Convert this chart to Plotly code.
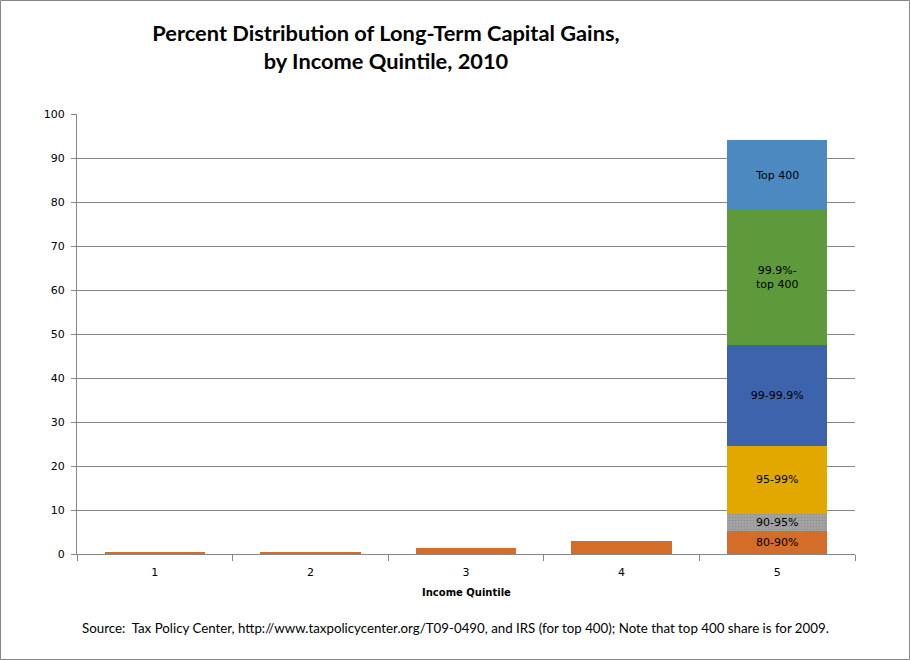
import plotly.graph_objects as go

quintiles = ["1", "2", "3", "4", "5"]
# Share of long-term capital gains by quintile (quintiles 1-4), and the 80-90% part of quintile 5
lower_share = [0.3, 0.5, 1.4, 3.0, 5.2]
# Components of the top quintile (bottom to top)
top_labels = ["90-95%", "95-99%", "99-99.9%", "99.9%-<br>top 400", "Top 400"]
top_values = [3.9, 15.5, 22.9, 30.7, 15.8]
top_colors = ["#A5A5A5", "#E2A800", "#3C63AC", "#5E993B", "#4C89C1"]
orange = "#D46C2A"

W, H = 910, 660
L, R, T, B = 77, 55, 114, 106
PW, PH = W - L - R, H - T - B

def px(x):
    return (x - L) / PW

def py(y):
    return (H - B - y) / PH

fig = go.Figure()
fig.add_trace(go.Bar(
    x=quintiles, y=lower_share,
    marker=dict(color=orange, line=dict(width=0)),
    text=["", "", "", "", "80-90%"],
    textposition="inside", insidetextanchor="middle", textangle=0,
    textfont=dict(family="DejaVu Sans", size=11, color="#000000"),
    hoverinfo="skip", showlegend=False,
))
for lab, val, col in zip(top_labels, top_values, top_colors):
    marker = dict(color=col, line=dict(width=0))
    if lab == "90-95%":
        marker["pattern"] = dict(shape=".", fgcolor="#7F7F7F", bgcolor=col, size=3, solidity=0.4)
    fig.add_trace(go.Bar(
        x=[quintiles[-1]], y=[val],
        marker=marker,
        text=[lab],
        textposition="inside", insidetextanchor="middle", textangle=0,
        textfont=dict(family="DejaVu Sans", size=11, color="#000000"),
        hoverinfo="skip", showlegend=False,
    ))

fig.update_layout(
    width=W, height=H,
    margin=dict(l=L, r=R, t=T, b=B, autoexpand=False),
    barmode="stack", bargap=0.355,
    uniformtext=dict(minsize=11, mode="show"),
    plot_bgcolor="#FFFFFF", paper_bgcolor="#FFFFFF",
    title=dict(
        text="<b>Percent Distribution of Long-Term Capital Gains,<br>by Income Quintile, 2010</b>",
        x=386 / W, xanchor="center", y=1 - 41 / H, yanchor="middle",
        font=dict(family="Lato", size=21.8, color="#000000"),
    ),
    xaxis=dict(
        type="category", showgrid=False, showline=True, linecolor="#868686", linewidth=1,
        ticks="outside", tickson="boundaries", ticklen=6, tickcolor="#868686",
        tickfont=dict(family="DejaVu Sans", size=11, color="#000000"),
        ticklabelstandoff=8,
        range=[-0.5, 4.5],
    ),
    yaxis=dict(
        range=[0, 100], dtick=10, showgrid=True, gridcolor="#868686", gridwidth=1,
        showline=True, linecolor="#868686", linewidth=1,
        ticks="outside", ticklen=5, tickcolor="#868686",
        tickfont=dict(family="DejaVu Sans", size=11, color="#000000"),
        ticklabelstandoff=4,
        zeroline=False,
    ),
    annotations=[
        dict(text="<b>Income Quintile</b>", x=0.5, y=py(592), xref="paper", yref="paper",
             showarrow=False, xanchor="center", yanchor="middle",
             font=dict(family="DejaVu Sans", size=10, color="#000000")),
        dict(text="Source:  Tax Policy Center, http://www.taxpolicycenter.org/T09-0490, and IRS (for top 400); Note that top 400 share is for 2009.",
             x=px(455), y=py(628), xref="paper", yref="paper",
             showarrow=False, xanchor="center", yanchor="middle",
             font=dict(family="Lato", size=13.3, color="#000000")),
    ],
    shapes=[
        dict(type="rect", xref="paper", yref="paper",
             x0=px(0.5), x1=px(W - 0.5), y0=py(H - 0.5), y1=py(0.5),
             line=dict(color="#868686", width=1), fillcolor="rgba(0,0,0,0)", layer="below"),
    ],
)

fig.write_html("out.html", config={"displayModeBar": False},
               post_script="document.body.style.margin='0';document.body.style.overflow='hidden';")
